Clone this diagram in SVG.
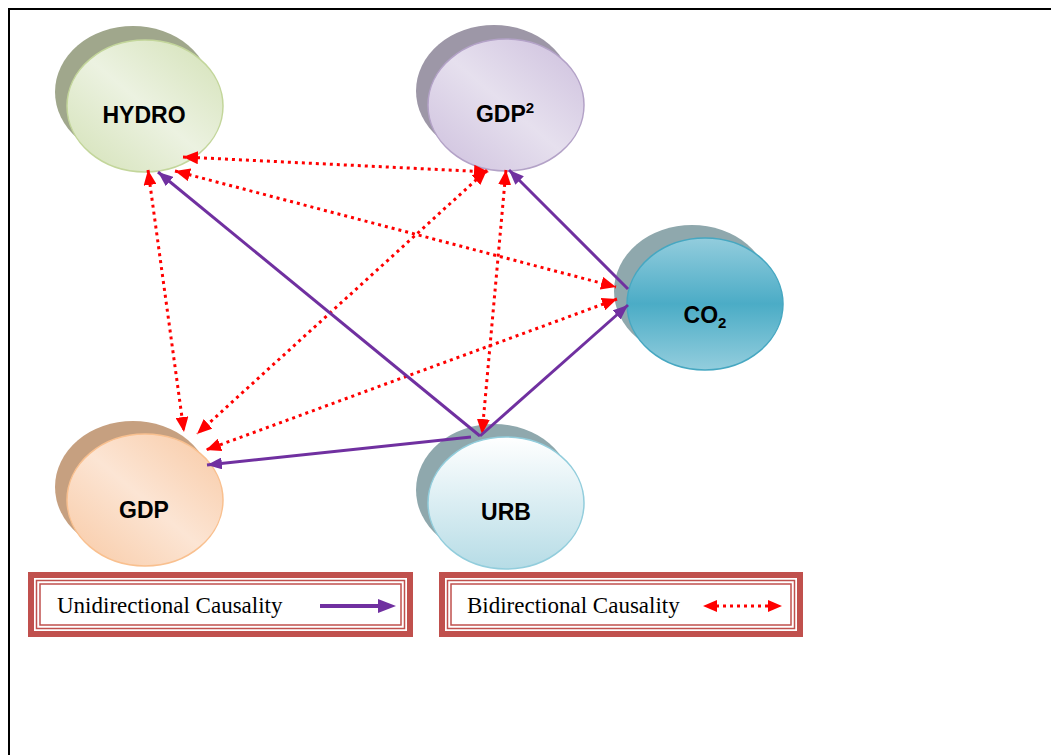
<svg xmlns="http://www.w3.org/2000/svg" width="1051" height="755" viewBox="0 0 1051 755">
<style>
.lbl{font-family:"Liberation Sans",Arial,sans-serif;font-weight:bold;font-size:23px;fill:#000;text-anchor:middle}
.leg{font-family:"Liberation Serif","Times New Roman",serif;font-size:23px;fill:#000}
.uni{stroke:#7030a0;stroke-width:3;fill:none;marker-end:url(#pa)}
.bi{stroke:#ff0000;stroke-width:3;stroke-dasharray:3 4;fill:none;marker-start:url(#ra);marker-end:url(#ra)}
.frame{fill:none;stroke:#c0504d}
</style>
<defs>
<marker id="pa" markerUnits="userSpaceOnUse" markerWidth="16" markerHeight="12" refX="15" refY="6" orient="auto"><path d="M0,0 L15,6 L0,12 z" fill="#7030a0"/></marker>
<marker id="ra" markerUnits="userSpaceOnUse" markerWidth="16" markerHeight="13" refX="15" refY="6.5" orient="auto-start-reverse"><path d="M0,0 L15,6.5 L0,13 z" fill="#ff0000"/></marker>
<linearGradient id="gH" x1="1" y1="0" x2="0" y2="1"><stop offset="0" stop-color="#d3e1b6"/><stop offset="0.5" stop-color="#ecf2e1"/><stop offset="1" stop-color="#d3e1b6"/></linearGradient>
<linearGradient id="gG2" x1="1" y1="0" x2="0" y2="1"><stop offset="0" stop-color="#cdbfdd"/><stop offset="0.5" stop-color="#e6e0ee"/><stop offset="1" stop-color="#cdbfdd"/></linearGradient>
<linearGradient id="gG" x1="1" y1="0" x2="0" y2="1"><stop offset="0" stop-color="#f8c9a4"/><stop offset="0.5" stop-color="#fce5d4"/><stop offset="1" stop-color="#f8c9a4"/></linearGradient>
<linearGradient id="gC" x1="0" y1="0" x2="0" y2="1"><stop offset="0" stop-color="#93cddd"/><stop offset="0.5" stop-color="#4bacc6"/><stop offset="1" stop-color="#93cddd"/></linearGradient>
<linearGradient id="gU" x1="0" y1="0" x2="0" y2="1"><stop offset="0" stop-color="#ffffff"/><stop offset="1" stop-color="#b6dce6"/></linearGradient>
</defs>
<rect width="1051" height="755" fill="#fff"/>
<path d="M9,755 V9 H1051" fill="none" stroke="#000" stroke-width="2"/>

<g id="HYDRO">
<ellipse cx="133" cy="92" rx="78" ry="66" fill="#a0a78c"/>
<ellipse cx="145" cy="106" rx="78" ry="66" fill="url(#gH)" stroke="#c3d69b" stroke-width="1.5"/>
<text class="lbl" x="144" y="123">HYDRO</text>
</g>
<g id="GDP2">
<ellipse cx="494" cy="91" rx="78" ry="66" fill="#9d97a7"/>
<ellipse cx="506" cy="105" rx="78" ry="66" fill="url(#gG2)" stroke="#b3a2c7" stroke-width="1.5"/>
<text class="lbl" x="505" y="122">GDP<tspan font-size="15" dy="-9">2</tspan></text>
</g>
<g id="CO2">
<ellipse cx="692" cy="291" rx="78" ry="66" fill="#8fa8ad"/>
<ellipse cx="705" cy="304" rx="78" ry="66" fill="url(#gC)" stroke="#46a7c1" stroke-width="1.5"/>
<text class="lbl" x="705" y="323">CO<tspan font-size="15" dy="5">2</tspan></text>
</g>
<g id="GDP">
<ellipse cx="133" cy="487" rx="78" ry="66" fill="#c6a080"/>
<ellipse cx="145" cy="500" rx="78" ry="66" fill="url(#gG)" stroke="#f9c08f" stroke-width="1.5"/>
<text class="lbl" x="144" y="518">GDP</text>
</g>
<g id="URB">
<ellipse cx="494" cy="490" rx="78" ry="66" fill="#8fa8ad"/>
<ellipse cx="506" cy="503" rx="78" ry="66" fill="url(#gU)" stroke="#92cddc" stroke-width="1.5"/>
<text class="lbl" x="506" y="520">URB</text>
</g>

<g id="connectors">
<line class="bi" x1="183" y1="157" x2="489" y2="172"/>
<line class="bi" x1="175" y1="171" x2="616" y2="287"/>
<line class="bi" x1="148" y1="170" x2="184" y2="432"/>
<line class="bi" x1="487" y1="170" x2="197" y2="434"/>
<line class="bi" x1="506" y1="170" x2="482" y2="434"/>
<line class="bi" x1="617" y1="299" x2="206" y2="450"/>
<line class="uni" x1="480" y1="436" x2="158" y2="172"/>
<line class="uni" x1="628" y1="289" x2="509" y2="170"/>
<line class="uni" x1="480" y1="436" x2="628" y2="305"/>
<line class="uni" x1="471" y1="437" x2="207" y2="465"/>
</g>

<g id="legend-uni">
<rect class="frame" x="31" y="575" width="379" height="59" stroke-width="6"/>
<rect class="frame" x="36.5" y="580.5" width="368" height="48" stroke-width="1.5"/>
<rect class="frame" x="40" y="584" width="361" height="41" stroke-width="1.5"/>
<text class="leg" x="57" y="613">Unidirectional Causality</text>
<line x1="320" y1="606" x2="381" y2="606" stroke="#7030a0" stroke-width="4"/>
<path d="M378,599 L396,606 L378,613 z" fill="#7030a0"/>
</g>
<g id="legend-bi">
<rect class="frame" x="442" y="575" width="358" height="59" stroke-width="6"/>
<rect class="frame" x="447.5" y="580.5" width="347" height="48" stroke-width="1.5"/>
<rect class="frame" x="451" y="584" width="340" height="41" stroke-width="1.5"/>
<text class="leg" x="467" y="613">Bidirectional Causality</text>
<line x1="716" y1="606" x2="770" y2="606" stroke="#ff0000" stroke-width="3" stroke-dasharray="3 4"/>
<path d="M717,600 L703,606 L717,612 z" fill="#ff0000"/>
<path d="M768,600 L782,606 L768,612 z" fill="#ff0000"/>
</g>
</svg>
